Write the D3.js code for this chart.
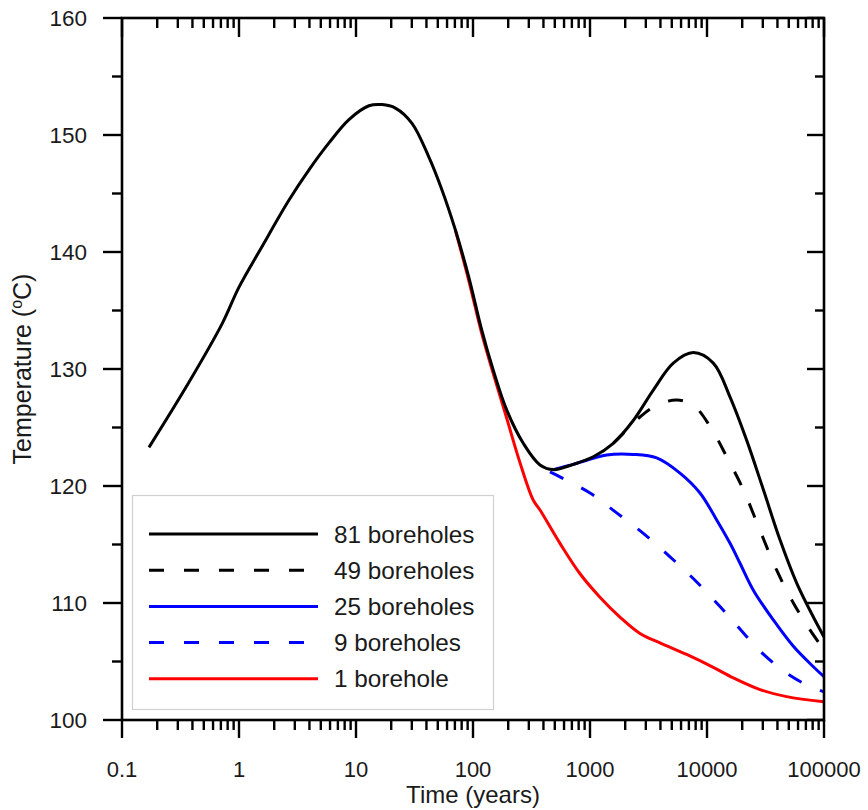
<!DOCTYPE html>
<html>
<head>
<meta charset="utf-8">
<script src="https://cdn.jsdelivr.net/npm/d3@7"></script>
<style>
  html, body { margin: 0; padding: 0; background: #fff; }
  svg { display: block; }
  text { font-family: "Liberation Sans", Arial, Helvetica, sans-serif; fill: #1a1a1a; }
</style>
</head>
<body>
<svg id="chart" width="868" height="810"></svg>
<script>
// ---------------- data ----------------
const xTickValues = [0.1, 1, 10, 100, 1000, 10000, 100000];
const xTickLabels = ["0.1", "1", "10", "100", "1000", "10000", "100000"];
const yTickValues = [100, 110, 120, 130, 140, 150, 160];
const yTickLabels = ["100", "110", "120", "130", "140", "150", "160"];

const legendLabels = ["81 boreholes", "49 boreholes", "25 boreholes", "9 boreholes", "1 borehole"];

// common early-time response (shared by all cases)
const commonTime = [0.17, 0.37, 0.72, 1.0, 1.57, 2.66, 3.95, 5.85, 8.66, 12.9, 16.7, 21.7, 30.1, 41.8, 54.3, 70.6, 91.8];
const commonTemp = [123.3, 128.8, 133.9, 137.0, 140.45, 144.4, 147.0, 149.3, 151.3, 152.5, 152.6, 152.3, 151.0, 148.15, 145.3, 141.9, 137.9];

// 81 boreholes (continuation after 100 yr)
const time81 = [119, 149, 194, 269, 374, 486, 720, 1067, 1581, 2344, 3475, 5151, 7638, 11320, 15740, 21850, 30290, 42060, 58430, 81100, 100000];
const temp81 = [133.3, 129.9, 126.5, 123.65, 121.8, 121.4, 121.85, 122.5, 123.65, 125.6, 128.2, 130.5, 131.4, 130.5, 127.6, 123.9, 119.7, 115.4, 111.7, 108.8, 107.1];

// 49 boreholes (from where it leaves the 81 curve)
const time49 = [1581, 2061, 2675, 3715, 5510, 7638, 10610, 14730, 20420, 28380, 39420, 54720, 75860, 100000];
const temp49 = [123.65, 124.8, 125.9, 126.9, 127.35, 126.9, 125.1, 122.5, 119.7, 116.2, 112.8, 110.0, 107.7, 106.0];

// 25 boreholes
const time25 = [486, 720, 1390, 2344, 3715, 5875, 8710, 12100, 15740, 19140, 24890, 36900, 54720, 81100, 100000];
const temp25 = [121.4, 121.85, 122.65, 122.7, 122.4, 121.1, 119.4, 117.1, 115.1, 113.4, 111.1, 108.55, 106.3, 104.55, 103.7];

// 9 boreholes
const time9 = [455, 1000, 1690, 2855, 4830, 8170, 12910, 17940, 28380, 47960, 71120, 100000];
const temp9 = [121.2, 119.4, 117.7, 115.95, 113.95, 111.8, 109.7, 108.1, 105.9, 104.0, 103.0, 102.4];

// 1 borehole
const time1 = [70.6, 91.8, 119, 149, 194, 252, 327, 374, 554, 822, 1216, 1803, 2675, 3963, 6700, 11320, 16790, 28380, 47960, 100000];
const temp1 = [141.9, 137.6, 133.0, 129.6, 125.8, 122.0, 118.8, 117.95, 115.1, 112.5, 110.5, 108.8, 107.4, 106.6, 105.6, 104.5, 103.6, 102.6, 102.0, 101.55];

// ---------------- chart ----------------
const svg = d3.select("#chart");
const L = 122, R = 824, T = 18, B = 720;

const x = d3.scaleLog().domain([0.1, 100000]).range([L, R]);
const y = d3.scaleLinear().domain([100, 160]).range([B, T]);

const zip = (ts, vs) => ts.map((t, i) => ({ t, v: vs[i] }));

const series = [
  { name: legendLabels[4], data: zip(time1, temp1), color: "#ff0000", dash: null },
  { name: legendLabels[3], data: zip(time9, temp9), color: "#0000ff", dash: "15,20" },
  { name: legendLabels[2], data: zip(time25, temp25), color: "#0000ff", dash: null },
  { name: legendLabels[1], data: zip(time49, temp49), color: "#000000", dash: "15,20" },
  { name: legendLabels[0], data: zip(commonTime.concat(time81), commonTemp.concat(temp81)), color: "#000000", dash: null }
];

const line = d3.line()
  .x(d => x(d.t))
  .y(d => y(d.v))
  .curve(d3.curveCatmullRom.alpha(0.5));

svg.append("defs").append("clipPath").attr("id", "clip")
  .append("rect").attr("x", L).attr("y", T).attr("width", R - L).attr("height", B - T);

const gLines = svg.append("g").attr("clip-path", "url(#clip)");
gLines.selectAll("path")
  .data(series)
  .join("path")
  .attr("d", d => line(d.data))
  .attr("fill", "none")
  .attr("stroke", d => d.color)
  .attr("stroke-width", 3)
  .attr("stroke-dasharray", d => d.dash)
  .attr("stroke-linejoin", "round");

// legend
const legendOrder = [
  { label: legendLabels[0], color: "#000000", dash: null },
  { label: legendLabels[1], color: "#000000", dash: "15,20" },
  { label: legendLabels[2], color: "#0000ff", dash: null },
  { label: legendLabels[3], color: "#0000ff", dash: "15,20" },
  { label: legendLabels[4], color: "#ff0000", dash: null }
];
const gLeg = svg.append("g");
gLeg.append("rect")
  .attr("x", 132.5).attr("y", 495.5).attr("width", 361).attr("height", 214)
  .attr("fill", "#fff").attr("stroke", "#d0d0d0").attr("stroke-width", 1.2);
const rows = gLeg.selectAll("g.row").data(legendOrder).join("g")
  .attr("class", "row")
  .attr("transform", (d, i) => `translate(0, ${534 + i * 36.2})`);
rows.append("line")
  .attr("x1", 149).attr("x2", 318).attr("y1", 0).attr("y2", 0)
  .attr("stroke", d => d.color).attr("stroke-width", 3)
  .attr("stroke-dasharray", d => d.dash);
rows.append("text")
  .attr("x", 334).attr("y", 0).attr("dy", "0.35em")
  .attr("font-size", 24.3)
  .text(d => d.label);

// frame
svg.append("rect")
  .attr("x", L).attr("y", T).attr("width", R - L).attr("height", B - T)
  .attr("fill", "none").attr("stroke", "#000").attr("stroke-width", 2.6);

// x ticks (log: majors at decades, minors 2..9)
const xAll = x.ticks();
const isMajor = v => Math.abs(Math.log10(v) - Math.round(Math.log10(v))) < 1e-9;
const gx = svg.append("g");
// bottom, outward
gx.selectAll("line.b").data(xAll).join("line").attr("class", "b")
  .attr("x1", d => x(d)).attr("x2", d => x(d))
  .attr("y1", B).attr("y2", d => B + (isMajor(d) ? 18 : 10))
  .attr("stroke", "#000").attr("stroke-width", 2.4);
// top, inward
gx.selectAll("line.t").data(xAll).join("line").attr("class", "t")
  .attr("x1", d => x(d)).attr("x2", d => x(d))
  .attr("y1", T).attr("y2", d => T + (isMajor(d) ? 19 : 10))
  .attr("stroke", "#000").attr("stroke-width", 2.4);
gx.selectAll("text").data(xTickValues).join("text")
  .attr("x", d => x(d)).attr("y", 777)
  .attr("text-anchor", "middle").attr("font-size", 22)
  .text((d, i) => xTickLabels[i]);

// y ticks
const yAll = d3.range(100, 160.1, 5);
const gy = svg.append("g");
gy.selectAll("line.l").data(yAll).join("line").attr("class", "l")
  .attr("y1", d => y(d)).attr("y2", d => y(d))
  .attr("x1", L).attr("x2", d => L - (d % 10 === 0 ? 19 : 10))
  .attr("stroke", "#000").attr("stroke-width", 2.4);
gy.selectAll("line.r").data(yAll).join("line").attr("class", "r")
  .attr("y1", d => y(d)).attr("y2", d => y(d))
  .attr("x1", R).attr("x2", d => R - (d % 10 === 0 ? 17 : 9))
  .attr("stroke", "#000").attr("stroke-width", 2.4);
gy.selectAll("text").data(yTickValues).join("text")
  .attr("x", 87).attr("y", d => y(d)).attr("dy", "0.36em")
  .attr("text-anchor", "end").attr("font-size", 22.5)
  .text((d, i) => yTickLabels[i]);

// axis titles
svg.append("text")
  .attr("x", (L + R) / 2).attr("y", 803)
  .attr("text-anchor", "middle").attr("font-size", 24)
  .text("Time (years)");

const yt = svg.append("text")
  .attr("transform", `translate(31, ${(T + B) / 2}) rotate(-90)`)
  .attr("text-anchor", "middle").attr("font-size", 25);
yt.append("tspan").text("Temperature (");
yt.append("tspan").attr("font-size", 16).attr("dy", -9).text("o");
yt.append("tspan").attr("dy", 9).text("C)");
</script>
</body>
</html>
